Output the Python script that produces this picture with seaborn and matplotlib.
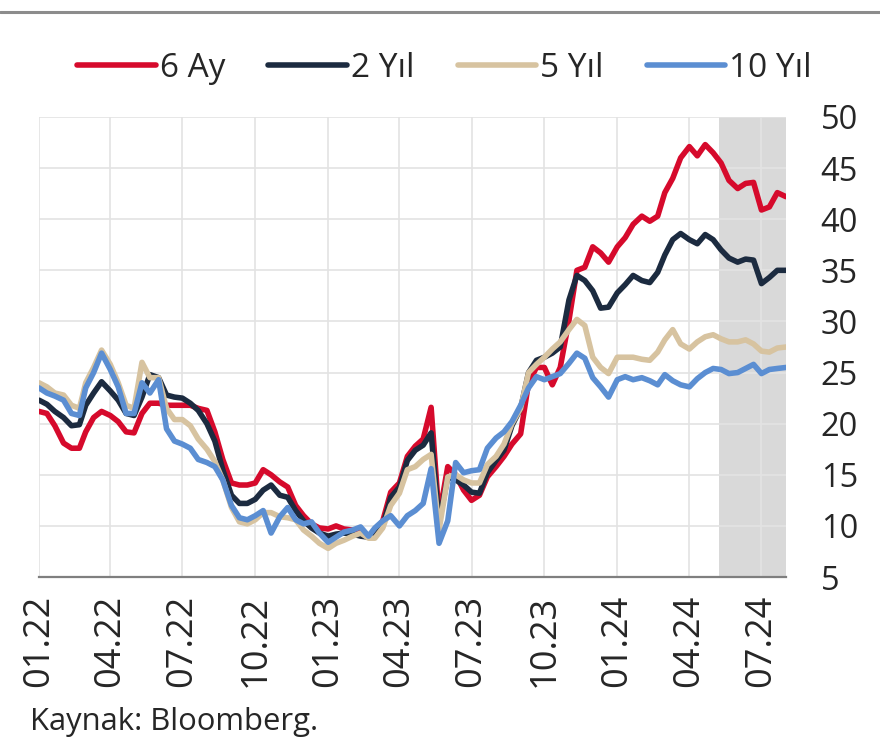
import matplotlib
matplotlib.use("Agg")
import matplotlib.pyplot as plt
import matplotlib.dates as mdates
from matplotlib.lines import Line2D
import numpy as np
import pandas as pd
import seaborn as sns

# ---------------- data ----------------
series_names = ["6 Ay", "2 Yıl", "5 Yıl", "10 Yıl"]
colors = ["#D60A2C", "#1C2B40", "#D7C3A0", "#5B8ED2"]

months = pd.date_range("2022-01-01", "2024-07-01", freq="MS")
dates = [m + pd.Timedelta(days=d) for m in months for d in (0, 10, 20)] + [pd.Timestamp("2024-08-01")]

six_m = [21.2, 21.0, 19.8, 18.1, 17.6, 17.6, 19.2, 20.6, 21.2, 20.8, 20.2, 19.2,
         19.1, 21.0, 22.0, 22.0, 21.8, 21.8, 21.8, 21.8, 21.5, 21.3, 19.2, 16.5,
         14.2, 14.0, 14.0, 14.2, 15.5, 15.0, 14.3, 13.8, 12.0, 11.0, 10.2, 9.8,
         9.7, 10.0, 9.7, 9.6, 9.6, 9.0, 9.3, 10.5, 13.3, 14.2, 16.8, 17.8,
         18.5, 21.6, 10.9, 15.8, 15.0, 13.5, 12.5, 13.0, 14.8, 15.8, 16.8, 18.0,
         19.0, 24.0, 25.5, 25.5, 23.8, 25.5, 30.1, 35.0, 35.3, 37.3, 36.7, 35.8,
         37.3, 38.2, 39.5, 40.3, 39.8, 40.3, 42.6, 44.0, 46.0, 47.1, 46.2, 47.3,
         46.5, 45.5, 43.8, 43.0, 43.5, 43.6, 40.9, 41.2, 42.6, 42.2]

two_y = [22.3, 21.9, 21.2, 20.6, 19.8, 19.9, 21.8, 23.0, 24.1, 23.2, 22.3, 21.0,
         20.8, 22.6, 24.8, 24.5, 22.8, 22.6, 22.5, 22.0, 21.3, 20.0, 18.3, 15.5,
         13.0, 12.2, 12.2, 12.6, 13.5, 14.0, 13.0, 12.8, 11.5, 10.5, 9.8, 9.3,
         9.0, 9.2, 9.3, 9.2, 9.0, 8.9, 9.0, 10.0, 12.8, 13.8, 16.4, 17.4,
         17.9, 19.1, 10.3, 14.8, 14.5, 14.0, 13.3, 13.2, 15.2, 16.4, 17.4, 19.8,
         21.5, 25.0, 26.2, 26.5, 26.9, 27.5, 32.1, 34.5, 34.0, 33.0, 31.3, 31.4,
         32.8, 33.6, 34.5, 34.0, 33.8, 34.8, 36.5, 38.0, 38.6, 38.0, 37.6, 38.5,
         38.0, 37.0, 36.2, 35.8, 36.1, 36.0, 33.7, 34.3, 35.0, 35.0]

five_y = [24.0, 23.6, 23.0, 22.8, 21.8, 21.5, 24.0, 25.5, 27.2, 25.8, 24.0, 21.8,
          21.5, 26.0, 24.5, 24.5, 21.5, 20.4, 20.4, 19.8, 18.5, 17.5, 16.3, 14.5,
          11.8, 10.4, 10.2, 10.6, 11.3, 11.3, 10.9, 10.8, 10.6, 9.6, 9.0, 8.3,
          7.8, 8.3, 8.6, 9.0, 9.3, 8.8, 8.8, 9.8, 12.0, 13.2, 15.5, 15.8,
          16.5, 17.0, 9.6, 14.8, 15.0, 14.5, 14.2, 14.2, 16.0, 16.8, 18.0, 20.0,
          21.5, 25.0, 25.8, 26.5, 27.3, 28.0, 29.2, 30.2, 29.6, 26.5, 25.5, 24.9,
          26.5, 26.5, 26.5, 26.3, 26.2, 27.0, 28.2, 29.2, 27.8, 27.3, 28.0, 28.5,
          28.7, 28.3, 28.0, 28.0, 28.2, 27.8, 27.1, 27.0, 27.4, 27.5]

ten_y = [23.5, 23.0, 22.7, 22.3, 21.0, 20.8, 23.5, 25.0, 26.9, 25.3, 23.6, 21.0,
         21.0, 24.0, 23.0, 24.3, 19.5, 18.3, 18.0, 17.6, 16.5, 16.2, 15.8, 14.5,
         12.0, 10.8, 10.6, 11.0, 11.5, 9.3, 10.9, 11.8, 10.6, 10.2, 10.4, 9.3,
         8.4, 8.9, 9.4, 9.6, 9.9, 9.0, 9.8, 10.5, 11.0, 10.0, 11.0, 11.5,
         12.2, 15.6, 8.3, 10.5, 16.2, 15.2, 15.4, 15.5, 17.6, 18.6, 19.2, 20.2,
         21.8, 23.5, 24.6, 24.3, 24.6, 24.9, 25.9, 26.9, 26.4, 24.5, 23.6, 22.6,
         24.3, 24.6, 24.3, 24.5, 24.2, 23.8, 24.8, 24.2, 23.8, 23.6, 24.4, 25.0,
         25.4, 25.3, 24.9, 25.0, 25.4, 25.8, 24.9, 25.3, 25.4, 25.5]

y_ticks = [5, 10, 15, 20, 25, 30, 35, 40, 45, 50]
x_tick_dates = pd.date_range("2022-01-01", "2024-07-01", freq="3MS")
shade_start = pd.Timestamp("2024-05-08")
source_text = "Kaynak: Bloomberg."

# ---------------- build frame ----------------
df = pd.concat([
    pd.DataFrame({"Tarih": dates, "Değer": vals, "Seri": name})
    for name, vals in zip(series_names, [six_m, two_y, five_y, ten_y])
], ignore_index=True)

# ---------------- plot ----------------
sns.set_style("white")
plt.rcParams["font.family"] = ["Open Sans", "DejaVu Sans"]

fig = plt.figure(figsize=(8.8, 7.46), dpi=100)
ax = fig.add_axes([0.0443, 0.2265, 0.8489, 0.6167])

ax.axvspan(shade_start, dates[-1], color="#D9D9D9", lw=0, zorder=0)

sns.lineplot(data=df, x="Tarih", y="Değer", hue="Seri", hue_order=series_names,
             palette=colors, linewidth=4.0, ax=ax, legend=False, zorder=3)

ax.set_xlim(dates[0], dates[-1])
ax.set_ylim(5, 50)
ax.set_yticks(y_ticks)
ax.set_xticks(x_tick_dates)
ax.xaxis.set_major_formatter(mdates.DateFormatter("%m.%y"))
ax.yaxis.tick_right()
ax.set_xlabel("")
ax.set_ylabel("")

ax.grid(True, color="#E3E3E3", linewidth=1.2, zorder=1)
ax.set_axisbelow(True)
for s in ["left", "right", "top"]:
    ax.spines[s].set_visible(False)
ax.spines["bottom"].set_color("#7F7F7F")
ax.spines["bottom"].set_linewidth(1.6)

ax.tick_params(axis="y", length=0, pad=25, labelsize=23.5, labelcolor="#262626")
ax.tick_params(axis="x", length=0, pad=13, labelsize=26, labelcolor="#262626",
               labelrotation=90)

handles = [Line2D([0], [0], color=c, lw=4.0, solid_capstyle="round") for c in colors]
fig.legend(handles, series_names, loc="center", bbox_to_anchor=(0.505, 0.908),
           ncol=4, frameon=False, fontsize=24, handlelength=2.35,
           handletextpad=0.12, columnspacing=1.3, labelcolor="#262626")

fig.add_artist(Line2D([0, 1], [0.984, 0.984], transform=fig.transFigure,
                      color="#8C8C8C", lw=2.2))

fig.text(0.034, 0.032, source_text, fontsize=22.3, color="#262626",
         ha="left", va="center")

fig.savefig("out.png", dpi=100)
